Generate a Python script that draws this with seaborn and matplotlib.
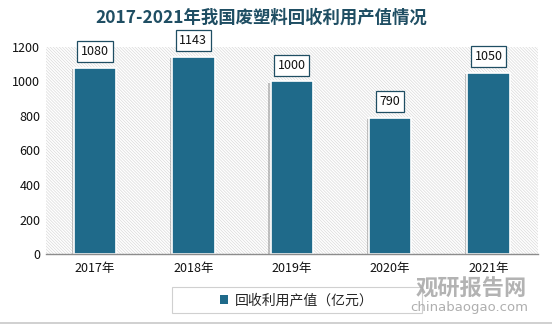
import matplotlib
matplotlib.use("Agg")
import matplotlib.pyplot as plt
import matplotlib.patheffects as pe
from matplotlib.patches import Rectangle
import seaborn as sns
import pandas as pd

years = ["2017年", "2018年", "2019年", "2020年", "2021年"]
values = [1080, 1143, 1000, 790, 1050]
series_name = "回收利用产值（亿元）"
title = "2017-2021年我国废塑料回收利用产值情况"

bar_color = "#1F6A8A"
title_color = "#1F4E63"

sns.set_theme(style="white")
plt.rcParams["font.family"] = ["Noto Sans CJK SC", "DejaVu Sans"]
plt.rcParams["hatch.linewidth"] = 0.5

df = pd.DataFrame({"year": years, "value": values})

fig = plt.figure(figsize=(5.52, 3.24), dpi=100)
ax = fig.add_axes([0.083, 0.216, 0.891, 0.639])

# finely hatched plot background
ax.add_patch(Rectangle((0, 0), 1, 1, transform=ax.transAxes, facecolor="white",
                       edgecolor="#DADADA", hatch="\\" * 11, lw=0, zorder=0))

sns.barplot(data=df, x="year", y="value", color=bar_color, width=0.43,
            saturation=1, ax=ax, zorder=2, edgecolor="white", linewidth=1.2)

for patch in ax.patches[1:]:
    patch.set_path_effects([pe.SimplePatchShadow(offset=(-1.5, -1.0),
                                                 shadow_rgbFace="#7F7F7F", alpha=0.45),
                            pe.Normal()])

for patch, v in zip(ax.patches[1:], values):
    x = patch.get_x() + patch.get_width() / 2
    ax.annotate(f"{v}", (x, patch.get_height()), xytext=(0, 7),
                textcoords="offset points", ha="center", va="bottom",
                fontsize=9, color="#111111", zorder=5,
                bbox=dict(boxstyle="square,pad=0.3", facecolor="white",
                          edgecolor="#1F4E63", linewidth=0.9))

ax.set_ylim(0, 1200)
ax.set_yticks(range(0, 1201, 200))
ax.set_xlim(-0.5, 4.5)
ax.set_xlabel("")
ax.set_ylabel("")
ax.tick_params(axis="both", length=0, labelsize=9, colors="#111111")
ax.tick_params(axis="x", pad=6)
ax.tick_params(axis="y", pad=4)
for side in ("top", "right", "left"):
    ax.spines[side].set_visible(False)
ax.spines["bottom"].set_color("#8C8C8C")
ax.spines["bottom"].set_linewidth(1.0)
ax.spines["bottom"].set_zorder(3)

fig.text(0.473, 0.945, title, ha="center", va="center", fontsize=12.5,
         fontweight="bold", color=title_color)

# legend box
fig.add_artist(Rectangle((172 / 552, 1 - 313 / 324), 250 / 552, 26 / 324,
                         transform=fig.transFigure, facecolor="white",
                         edgecolor="#D0D0D0", lw=0.8))
handle = Rectangle((0, 0), 1, 1, facecolor=bar_color, edgecolor="none")
fig.legend([handle], [series_name], loc="center", bbox_to_anchor=(297 / 552, 1 - 300 / 324),
           frameon=False, fontsize=10, handlelength=0.6, handleheight=0.6,
           handletextpad=0.5, borderpad=0)

# watermark
fig.text(471 / 552, 1 - 289 / 324, "观研报告网", ha="center", va="center", fontsize=16,
         fontweight="bold", color="#A6A6A6", alpha=0.85)
fig.text(469 / 552, 1 - 308 / 324, "chinabaogao.com", ha="center", va="center",
         fontsize=9.5, color="#A6A6A6", family=["DejaVu Sans"], alpha=0.9)

fig.add_artist(plt.Line2D([0, 1], [0.004, 0.004], transform=fig.transFigure,
                          color="#C8C8C8", lw=1.2))

fig.savefig("out.png", dpi=100)
